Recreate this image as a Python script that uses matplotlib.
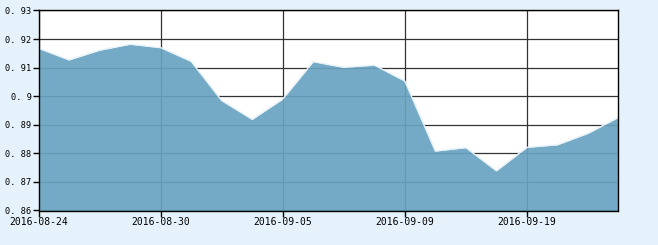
import numpy as np
import matplotlib.pyplot as plt

dates = ["2016-08-24", "2016-08-25", "2016-08-26", "2016-08-29", "2016-08-30",
         "2016-08-31", "2016-09-01", "2016-09-02", "2016-09-05", "2016-09-06",
         "2016-09-07", "2016-09-08", "2016-09-09", "2016-09-12", "2016-09-13",
         "2016-09-14", "2016-09-19", "2016-09-20", "2016-09-21", "2016-09-22"]
values = [0.9168, 0.9127, 0.9161, 0.9182, 0.9170, 0.9122, 0.8985, 0.8919,
          0.8990, 0.9121, 0.9101, 0.9109, 0.9053, 0.8808, 0.8820, 0.8739,
          0.8821, 0.8830, 0.8870, 0.8926]
tick_labels = ["2016-08-24", "2016-08-30", "2016-09-05", "2016-09-09", "2016-09-19"]
y_ticks = [0.86, 0.87, 0.88, 0.89, 0.90, 0.91, 0.92, 0.93]
y_labels = ["0. 86", "0. 87", "0. 88", "0. 89", "0. 9", "0. 91", "0. 92", "0. 93"]

x = np.arange(len(dates))

fig = plt.figure(figsize=(6.58, 2.45), dpi=100, facecolor="#e6f2fb")
ax = fig.add_axes([38.5 / 658, 1 - 210.5 / 245, 580 / 658, 200 / 245])
ax.set_facecolor("white")

ax.fill_between(x, values, 0.86, color="#69a3c1", alpha=0.92, linewidth=0, zorder=2)
ax.plot(x, values, color="#e8f2f8", linewidth=1.0, zorder=3)

ax.set_xlim(0, len(dates) - 1)
ax.set_ylim(0.86, 0.93)

tick_pos = [dates.index(d) for d in tick_labels]
ax.set_xticks(tick_pos)
ax.set_xticklabels(tick_labels)
ax.set_yticks(y_ticks)
ax.set_yticklabels(y_labels)

ax.grid(True, color="#333333", linewidth=0.9, zorder=1)
ax.set_axisbelow(True)

for s in ax.spines.values():
    s.set_color("black")
    s.set_linewidth(1.0)
    s.set_zorder(4)

ax.tick_params(axis="both", direction="out", length=4, width=1, color="black", pad=1)
ax.tick_params(axis="x", labelsize=7)
ax.tick_params(axis="y", labelsize=6.2)
for lab in ax.get_xticklabels() + ax.get_yticklabels():
    lab.set_fontfamily("DejaVu Sans Mono")

fig.savefig("out.png", dpi=100, facecolor=fig.get_facecolor())
